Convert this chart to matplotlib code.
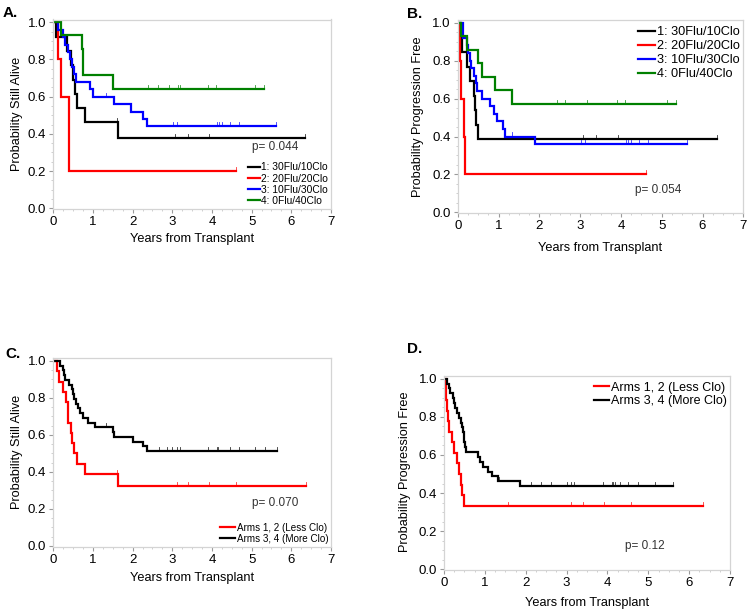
import numpy as np
import matplotlib
matplotlib.use("Agg")
import matplotlib.pyplot as plt

plt.rcParams['font.family'] = ['Liberation Sans', 'DejaVu Sans']

# ---------------- data ----------------
# Panel A: overall survival by arm
A1_t = [0.08, 0.34, 0.45, 0.49, 0.55, 0.60, 0.80, 1.64]
A1_s = [0.923, 0.846, 0.769, 0.692, 0.615, 0.538, 0.462, 0.380]
A1_c = [1.61, 3.08, 3.39, 3.92]
A1_end = 6.34

A2_t = [0.12, 0.20, 0.40]
A2_s = [0.80, 0.60, 0.20]
A2_c = []
A2_end = 4.60

A3_t = [0.12, 0.25, 0.30, 0.38, 0.43, 0.47, 0.52, 0.58, 0.92, 1.00, 1.54, 1.95, 2.25, 2.35]
A3_s = [0.96, 0.92, 0.88, 0.84, 0.80, 0.76, 0.72, 0.68, 0.64, 0.60, 0.56, 0.52, 0.48, 0.44]
A3_c = [1.33, 3.02, 3.11, 4.13, 4.17, 4.24, 4.45, 4.67]
A3_end = 5.61

A4_t = [0.20, 0.72, 0.75, 1.50]
A4_s = [0.929, 0.857, 0.714, 0.643]
A4_c = [2.38, 2.63, 2.92, 3.15, 3.19, 3.91, 4.10, 5.08]
A4_end = 5.32

# Panel B: progression-free survival by arm
B1_t = [0.08, 0.10, 0.22, 0.30, 0.40, 0.42, 0.46, 0.50]
B1_s = [0.923, 0.846, 0.769, 0.692, 0.615, 0.538, 0.462, 0.385]
B1_c = [3.08, 3.39, 3.92]
B1_end = 6.35

B2_t = [0.05, 0.07, 0.16, 0.19]
B2_s = [0.80, 0.60, 0.40, 0.20]
B2_c = []
B2_end = 4.62

B3_t = [0.12, 0.14, 0.22, 0.25, 0.30, 0.33, 0.40, 0.45, 0.48, 0.60, 0.78, 0.88, 0.97, 1.10, 1.17, 1.90]
B3_s = [0.96, 0.92, 0.88, 0.84, 0.80, 0.76, 0.72, 0.68, 0.64, 0.60, 0.56, 0.52, 0.48, 0.44, 0.40, 0.36]
B3_c = [1.34, 3.02, 3.11, 4.13, 4.17, 4.24, 4.45, 4.67]
B3_end = 5.63

B4_t = [0.08, 0.22, 0.50, 0.59, 0.91, 1.34]
B4_s = [0.929, 0.857, 0.786, 0.714, 0.643, 0.571]
B4_c = [2.43, 2.63, 3.16, 3.90, 4.10, 5.13]
B4_end = 5.35

# Panel C: overall survival, pooled arms
C1_t = [0.10, 0.14, 0.24, 0.32, 0.37, 0.38, 0.44, 0.48, 0.52, 0.59, 0.80, 1.64]
C1_s = [0.944, 0.889, 0.833, 0.778, 0.722, 0.667, 0.611, 0.556, 0.500, 0.444, 0.389, 0.324]
C1_c = [1.60, 3.11, 3.40, 3.93, 4.61]
C1_end = 6.36

C2_t = [0.17, 0.24, 0.27, 0.29, 0.40, 0.46, 0.49, 0.52, 0.58, 0.63, 0.68, 0.74, 0.88, 1.05,
        1.50, 1.52, 2.00, 2.27, 2.35]
C2_s = [0.974, 0.949, 0.923, 0.897, 0.872, 0.846, 0.821, 0.795, 0.769, 0.744, 0.718, 0.692,
        0.667, 0.641, 0.615, 0.590, 0.564, 0.538, 0.513]
C2_c = [1.32, 2.67, 2.86, 2.98, 3.11, 3.19, 3.91, 4.12, 4.16, 4.45, 4.68, 5.08, 5.34]
C2_end = 5.63

# Panel D: progression-free survival, pooled arms
D1_t = [0.04, 0.06, 0.08, 0.09, 0.12, 0.19, 0.25, 0.31, 0.37, 0.41, 0.45, 0.49]
D1_s = [0.944, 0.889, 0.833, 0.778, 0.722, 0.667, 0.611, 0.556, 0.500, 0.444, 0.389, 0.333]
D1_c = [1.57, 3.11, 3.39, 3.92, 4.58]
D1_end = 6.35

D2_t = [0.08, 0.12, 0.15, 0.21, 0.25, 0.28, 0.31, 0.36, 0.42, 0.45, 0.47, 0.48, 0.50, 0.52,
        0.55, 0.84, 0.88, 0.95, 1.08, 1.17, 1.33, 1.86]
D2_s = [0.974, 0.949, 0.923, 0.897, 0.872, 0.846, 0.821, 0.795, 0.769, 0.744, 0.718, 0.692,
        0.667, 0.641, 0.615, 0.590, 0.564, 0.538, 0.513, 0.487, 0.462, 0.436]
D2_c = [1.35, 2.14, 2.37, 2.62, 3.00, 3.12, 3.17, 3.90, 4.10, 4.14, 4.18, 4.30, 4.51, 4.76, 5.16]
D2_end = 5.60

arm_labels = ["1: 30Flu/10Clo", "2: 20Flu/20Clo", "3: 10Flu/30Clo", "4: 0Flu/40Clo"]
pooled_labels = ["Arms 1, 2 (Less Clo)", "Arms 3, 4 (More Clo)"]
arm_colors = ["#000000", "#ff0000", "#0000ff", "#008000"]
pooled_colors = ["#ff0000", "#000000"]
p_values = ["p= 0.044", "p= 0.054", "p= 0.070", "p= 0.12"]
xticks = [0, 1, 2, 3, 4, 5, 6, 7]
yticks = [0.0, 0.2, 0.4, 0.6, 0.8, 1.0]

# ---------------- drawing ----------------
W, H = 750, 613
fig = plt.figure(figsize=(W / 100, H / 100), dpi=100)


def px_rect(l, t, r, b):
    return [l / W, 1 - b / H, (r - l) / W, (b - t) / H]


def draw_km(ax, t, s, cens, end, color, label):
    tt = [0.0] + list(t) + [end]
    ss = [1.0] + list(s) + [s[-1]]
    line, = ax.step(tt, ss, where='post', color=color, lw=1.6, label=label,
                    solid_joinstyle='miter')
    steps_t = np.array([0.0] + list(t))
    steps_s = np.array([1.0] + list(s))
    marks = list(cens) + [end]
    for c in marks:
        lvl = steps_s[np.searchsorted(steps_t, c, side='right') - 1]
        ax.plot([c, c], [lvl, lvl + 0.022], color=color, lw=0.6, alpha=0.8)
    return line


def style_ax(ax):
    ax.set_xlim(0, 7)
    ax.set_ylim(-0.005, 1.015)
    ax.set_xticks(xticks)
    ax.set_yticks(yticks)
    ax.set_yticklabels([f"{v:.1f}" for v in yticks])
    ax.set_xticks(np.arange(0, 7.01, 0.25), minor=True)
    ax.set_yticks(np.arange(0, 1.01, 0.05), minor=True)
    for sp in ax.spines.values():
        sp.set_color('#d4d4d4')
        sp.set_linewidth(0.9)
    ax.tick_params(axis='both', which='major', labelsize=9.5, length=3, width=0.8,
                   color='#9a9a9a', pad=2, labelcolor='black')
    ax.tick_params(axis='both', which='minor', length=1.5, width=0.6, color='#c8c8c8')


panels = [
    dict(rect=px_rect(53.3, 19.5, 331.0, 209.2),
         curves=[(A1_t, A1_s, A1_c, A1_end), (A2_t, A2_s, A2_c, A2_end),
                 (A3_t, A3_s, A3_c, A3_end), (A4_t, A4_s, A4_c, A4_end)],
         colors=arm_colors, labels=arm_labels, ylabel="Probability Still Alive",
         letter=("A.", 3, 17), ylab_pos=(17, 113.5), xlab_pos=(192.5, 239),
         p=(p_values[0], 5.0, 0.33),
         leg=dict(loc='lower right', fs=7.4, bbox=(1.005, -0.005), ls=0.12, hl=1.2)),
    dict(rect=px_rect(457.7, 19.9, 743.3, 213.3),
         curves=[(B1_t, B1_s, B1_c, B1_end), (B2_t, B2_s, B2_c, B2_end),
                 (B3_t, B3_s, B3_c, B3_end), (B4_t, B4_s, B4_c, B4_end)],
         colors=arm_colors, labels=arm_labels, ylabel="Probability Progression Free",
         letter=("B.", 407, 18), ylab_pos=(418, 116.5), xlab_pos=(600, 248),
         p=(p_values[1], 4.35, 0.12),
         leg=dict(loc='upper right', fs=9.2, bbox=(1.005, 0.995), ls=0.17, hl=1.3)),
    dict(rect=px_rect(53.3, 358.2, 331.0, 546.9),
         curves=[(C1_t, C1_s, C1_c, C1_end), (C2_t, C2_s, C2_c, C2_end)],
         colors=pooled_colors, labels=pooled_labels, ylabel="Probability Still Alive",
         letter=("C.", 5, 358), ylab_pos=(17, 452), xlab_pos=(192.5, 578),
         p=(p_values[2], 5.0, 0.23),
         leg=dict(loc='lower right', fs=7.1, bbox=(1.005, -0.005), ls=0.1, hl=1.6)),
    dict(rect=px_rect(444.0, 375.8, 730.0, 570.3),
         curves=[(D1_t, D1_s, D1_c, D1_end), (D2_t, D2_s, D2_c, D2_end)],
         colors=pooled_colors, labels=pooled_labels, ylabel="Probability Progression Free",
         letter=("D.", 407, 353), ylab_pos=(405, 472), xlab_pos=(587, 603),
         p=(p_values[3], 4.43, 0.12),
         leg=dict(loc='upper right', fs=9.0, bbox=(1.005, 0.995), ls=0.12, hl=1.2)),
]

for pn in panels:
    ax = fig.add_axes(pn['rect'])
    for (t, s, c, e), col, lab in zip(pn['curves'], pn['colors'], pn['labels']):
        draw_km(ax, t, s, c, e, col, lab)
    style_ax(ax)
    txt, px_, py_ = pn['p']
    ax.text(px_, py_, txt, fontsize=8.5, color='#333333', va='center', ha='left')
    lg = pn['leg']
    ax.legend(loc=lg['loc'], bbox_to_anchor=lg['bbox'], fontsize=lg['fs'], frameon=False,
              handlelength=lg['hl'], handletextpad=0.15, labelspacing=lg['ls'], borderpad=0.2,
              borderaxespad=0.2)
    l, x, y = pn['letter']
    fig.text(x / W, 1 - y / H, l, fontsize=11, fontweight='bold', ha='left', va='baseline')
    fig.text(pn['ylab_pos'][0] / W, 1 - pn['ylab_pos'][1] / H, pn['ylabel'], rotation=90,
             fontsize=9.2, ha='center', va='center')
    fig.text(pn['xlab_pos'][0] / W, 1 - pn['xlab_pos'][1] / H, "Years from Transplant",
             fontsize=9.2, ha='center', va='center')

fig.savefig("out.png", dpi=100, facecolor='white')
